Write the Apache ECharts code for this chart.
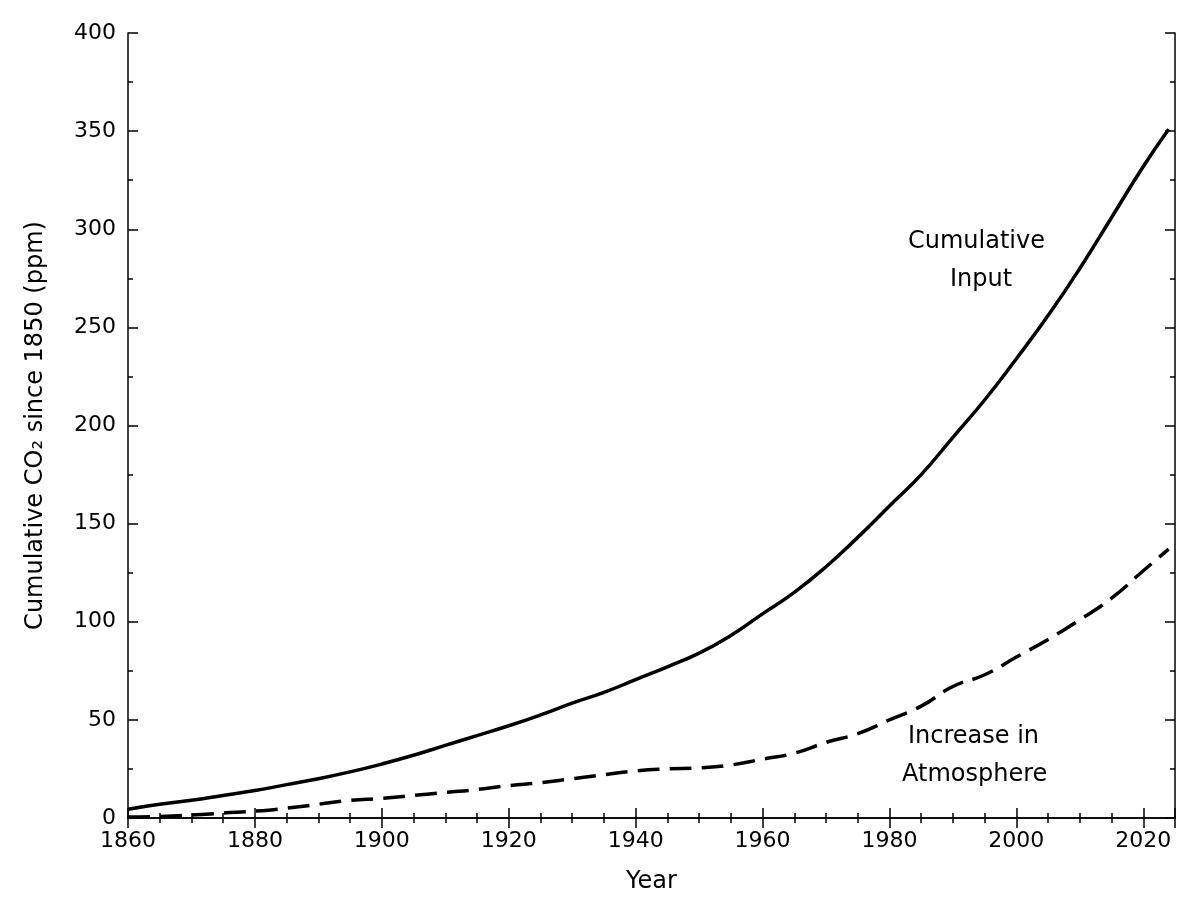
<!DOCTYPE html>
<html><head><meta charset="utf-8">
<script src="https://cdn.jsdelivr.net/npm/echarts@6/dist/echarts.min.js"></script>
<style>html,body{margin:0;padding:0;background:#fff}#c{width:1200px;height:914px}</style>
</head><body><div id="c"></div>
<script>
const years=[1860,1865,1870,1875,1880,1885,1890,1895,1900,1905,1910,1915,1920,1925,1930,1935,1940,1945,1950,1955,1960,1965,1970,1975,1980,1985,1990,1995,2000,2005,2010,2015,2020,2024];
const cumulativeInput=[4.5,7,9,11.5,14,17,20,23.5,27.5,32,37,42,47,52.5,58.5,64,70.5,77,84,93,104,115,128,143,159,175,194,213,234,256,280,306,332,351];
const atmosphere=[0.5,0.8,1.5,2.5,3.5,5,7,9,10,11.5,13,14.5,16.5,18,20,22,24,25,25.5,27,30,33,38.5,43,50,57,67,73,82,91,101,112,126,137];
const F='DejaVu Sans';
const chart=echarts.init(document.getElementById('c'));
const line={show:true,lineStyle:{color:'#000',width:1.5}};
const tick={show:true,inside:true,length:10,lineStyle:{color:'#000',width:1.5}};
const mt=n=>({show:true,splitNumber:n,length:5,lineStyle:{color:'#000',width:1.5}});
chart.setOption({
 animation:false,
 grid:{left:128,right:25,top:33,bottom:96},
 xAxis:[
  {type:'value',min:1860,max:2025,interval:20,name:'Year',nameLocation:'middle',nameGap:52,
   nameTextStyle:{fontFamily:F,fontSize:24,color:'#000'},
   axisLabel:{fontFamily:F,fontSize:22,color:'#000',margin:12,showMaxLabel:false,formatter:v=>String(v)},
   axisLine:line,axisTick:tick,minorTick:mt(4),splitLine:{show:false}},
  {type:'value',position:'top',min:1860,max:2025,interval:20,axisLabel:{show:false},
   axisLine:line,axisTick:tick,minorTick:mt(4),splitLine:{show:false}}
 ],
 yAxis:[
  {type:'value',min:0,max:400,interval:50,name:'Cumulative CO₂ since 1850 (ppm)',nameLocation:'middle',nameGap:80,
   nameTextStyle:{fontFamily:F,fontSize:24,color:'#000'},
   axisLabel:{fontFamily:F,fontSize:22,color:'#000',margin:12},
   axisLine:line,axisTick:tick,minorTick:mt(2),splitLine:{show:false}},
  {type:'value',position:'right',min:0,max:400,interval:50,axisLabel:{show:false},
   axisLine:line,axisTick:tick,minorTick:mt(2),splitLine:{show:false}}
 ],
 series:[
  {type:'line',data:years.map((y,i)=>[y,cumulativeInput[i]]),smooth:true,showSymbol:false,lineStyle:{color:'#000',width:3.5}},
  {type:'line',data:years.map((y,i)=>[y,atmosphere[i]]),smooth:true,showSymbol:false,lineStyle:{color:'#000',width:3.5,type:[22,10]}}
 ],
 graphic:[
  {type:'text',left:908,top:230,style:{text:'Cumulative',font:'24px "DejaVu Sans"',fill:'#000'}},
  {type:'text',left:950,top:268,style:{text:'Input',font:'24px "DejaVu Sans"',fill:'#000'}},
  {type:'text',left:908,top:725,style:{text:'Increase in',font:'24px "DejaVu Sans"',fill:'#000'}},
  {type:'text',left:902,top:763,style:{text:'Atmosphere',font:'24px "DejaVu Sans"',fill:'#000'}}
 ]
});
</script></body></html>
